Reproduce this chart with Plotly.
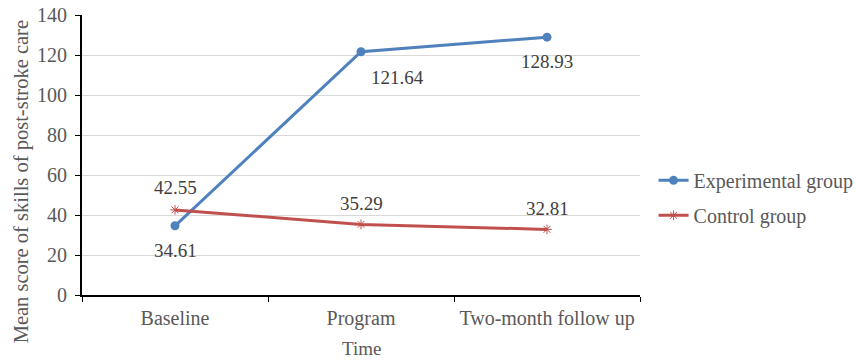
import plotly.graph_objects as go

categories = ["Baseline", "Program", "Two-month follow up"]
experimental = [34.61, 121.64, 128.93]
control = [42.55, 35.29, 32.81]
y_ticks = [0, 20, 40, 60, 80, 100, 120, 140]

BLUE = "#4F81BD"
RED = "#C0504D"
TEXT = "#595959"
FONT = "Times New Roman, Liberation Serif, serif"

fig = go.Figure()
fig.add_trace(go.Scatter(
    x=categories, y=experimental, name="Experimental group",
    legendgroup="exp",
    mode="lines+markers",
    line=dict(color=BLUE, width=3),
    marker=dict(symbol="circle", size=9, color=BLUE),
))
fig.add_trace(go.Scatter(
    x=categories, y=control, name="Control group",
    legendgroup="ctl",
    mode="lines+markers",
    line=dict(color=RED, width=3),
    marker=dict(symbol="asterisk-open", size=8, color=RED,
                line=dict(color=RED, width=1)),
))

# value labels: experimental below the points, control above
exp_shift = [(0, -25), (36, -26), (0, -24)]
ctl_shift = [(0, 22), (0, 21), (0, 21)]
for cat, val, (dx, dy) in zip(categories, experimental, exp_shift):
    fig.add_annotation(x=cat, y=val, text=f"{val:.2f}", showarrow=False,
                       xshift=dx, yshift=dy,
                       font=dict(family=FONT, size=19, color="#404040"))
for cat, val, (dx, dy) in zip(categories, control, ctl_shift):
    fig.add_annotation(x=cat, y=val, text=f"{val:.2f}", showarrow=False,
                       xshift=dx, yshift=dy,
                       font=dict(family=FONT, size=19, color="#404040"))

# axis titles
fig.add_annotation(xref="paper", yref="paper", x=-0.108, y=0.405,
                   xanchor="center", yanchor="middle",
                   text="Mean score of skills of post-stroke care",
                   textangle=-90, showarrow=False,
                   font=dict(family=FONT, size=20.5, color=TEXT))
fig.add_annotation(xref="paper", yref="paper", x=0.5, y=-0.19,
                   xanchor="center", yanchor="middle",
                   text="Time", showarrow=False,
                   font=dict(family=FONT, size=19, color=TEXT))

fig.update_layout(
    width=856, height=363,
    margin=dict(l=82, r=216, t=15, b=68),
    paper_bgcolor="white", plot_bgcolor="white",
    font=dict(family=FONT, size=20, color=TEXT),
    showlegend=True,
    legend=dict(xref="container", yref="container",
                x=0.7635, y=0.557, xanchor="left", yanchor="top",
                font=dict(family=FONT, size=20, color=TEXT),
                itemwidth=30, tracegroupgap=6,
                bgcolor="rgba(0,0,0,0)"),
    xaxis=dict(
        type="category", range=[-0.5, 2.5], automargin=False,
        tickangle=0, ticklabelstandoff=4,
        tickson="boundaries", ticks="outside", ticklen=5, tickcolor="black",
        showline=True, linecolor="black", linewidth=2,
        showgrid=False, zeroline=False,
        tickfont=dict(family=FONT, size=20, color=TEXT),
    ),
    yaxis=dict(
        range=[0, 140], tickvals=y_ticks, automargin=False,
        ticklabelstandoff=4,
        ticks="outside", ticklen=5, tickcolor="black",
        showline=True, linecolor="black", linewidth=2,
        showgrid=True, gridcolor="#D9D9D9", gridwidth=1,
        zeroline=False,
        tickfont=dict(family=FONT, size=20, color=TEXT),
    ),
)

fig.write_html("out.html")
